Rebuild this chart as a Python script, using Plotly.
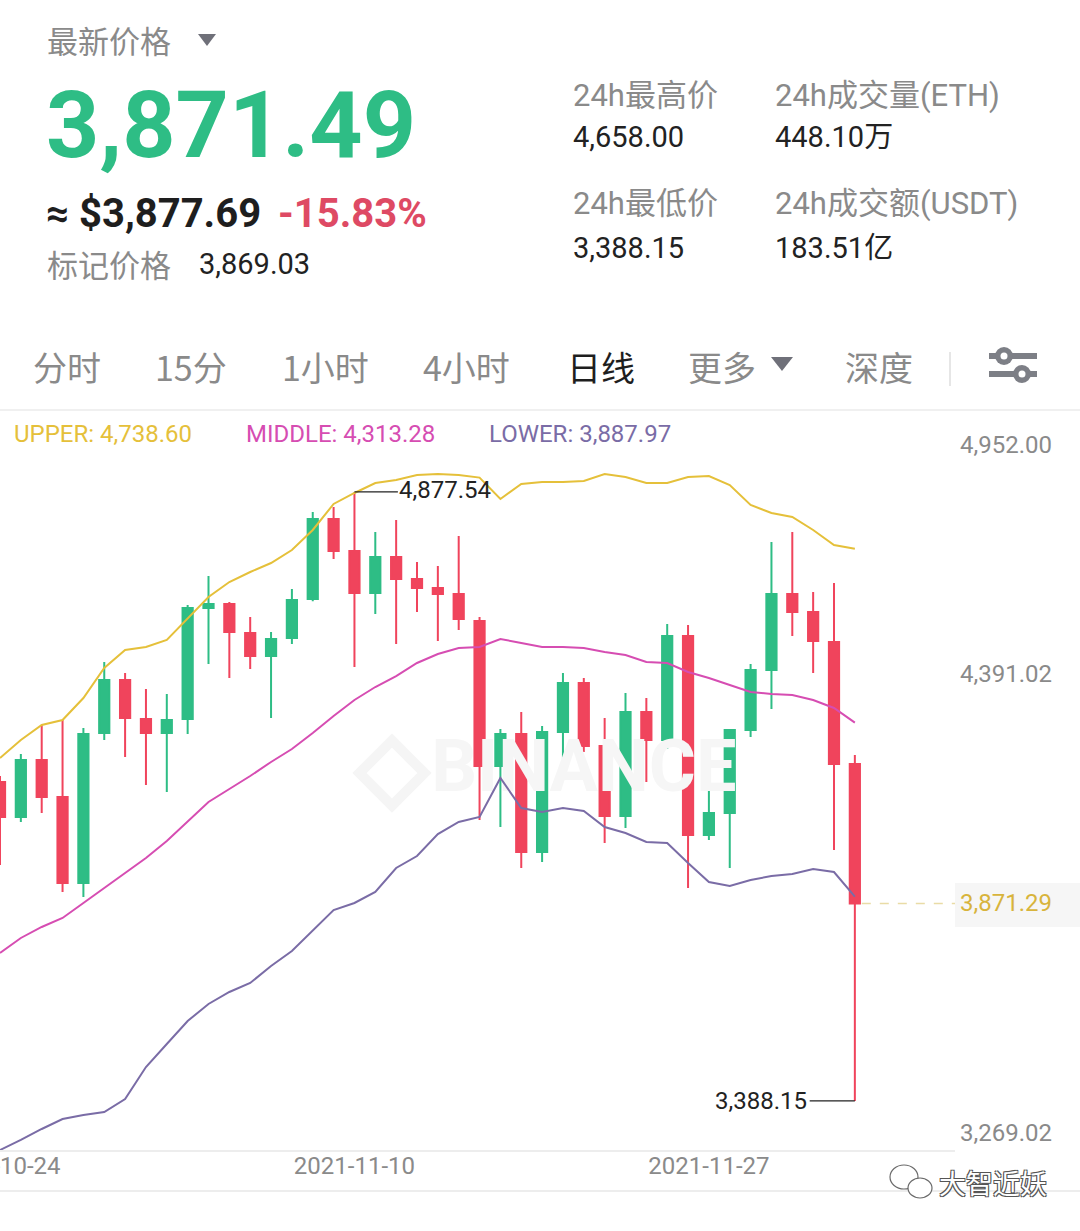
import plotly.graph_objects as go
import pandas as pd

W, H = 1080, 1231

# ---------------- data ----------------
dates = pd.date_range('2021-10-24', '2021-12-04', freq='D').strftime('%Y-%m-%d').tolist()

open_ = [4168.2, 4082.6, 4222.0, 4131.5, 3921.2, 4288.0, 4417.6, 4322.2, 4288.0, 4322.2,
         4593.7, 4603.5, 4532.6, 4476.3, 4520.3, 4615.7, 4811.4, 4733.1, 4630.4, 4718.4,
         4664.6, 4642.6, 4628.0, 4561.9, 4207.3, 4285.6, 3997.0, 4290.5, 4410.3, 4256.2,
         4085.0, 4339.4, 4270.9, 4525.2, 4038.6, 4092.4, 4295.4, 4442.1, 4628.0, 4583.9,
         4510.6, 4212.2]
high = [4182.9, 4236.6, 4307.6, 4319.8, 4300.2, 4461.6, 4434.8, 4395.6, 4383.4, 4601.1,
        4672.0, 4608.4, 4571.7, 4535.0, 4640.2, 4828.5, 4840.7, 4877.54, 4779.6, 4808.9,
        4706.2, 4696.4, 4769.8, 4571.7, 4297.8, 4339.4, 4305.1, 4434.8, 4422.5, 4324.7,
        4385.8, 4373.6, 4554.6, 4552.1, 4180.4, 4297.8, 4456.8, 4755.1, 4779.6, 4632.8,
        4654.9, 4234.2]
low = [3965.2, 4070.4, 4092.4, 3899.2, 3886.9, 4270.9, 4229.3, 4160.8, 4143.7, 4285.6,
       4456.8, 4422.5, 4444.5, 4324.7, 4505.7, 4610.0, 4713.6, 4449.4, 4579.0, 4505.7,
       4583.9, 4513.0, 4539.9, 4075.3, 4058.1, 3957.9, 3972.5, 4202.4, 4241.6, 4019.0,
       4055.7, 4168.2, 4248.9, 3909.0, 4026.3, 3957.9, 4278.2, 4346.7, 4525.2, 4434.8,
       4001.9, 3388.15]
close = [4082.6, 4222.0, 4131.5, 3921.2, 4285.6, 4417.6, 4324.7, 4288.0, 4319.8, 4593.7,
         4603.5, 4535.0, 4476.3, 4517.9, 4613.3, 4811.4, 4733.1, 4630.4, 4718.4, 4664.6,
         4642.6, 4628.0, 4566.8, 4207.3, 4285.6, 3997.0, 4290.5, 4410.3, 4256.2, 4085.0,
         4339.4, 4270.9, 4525.2, 4038.6, 4092.4, 4295.4, 4442.1, 4628.0, 4583.9, 4513.0,
         4212.2, 3871.29]

upper = [4226.9, 4270.9, 4307.6, 4319.8, 4373.6, 4447.0, 4491.0, 4498.3, 4515.5, 4566.8,
         4620.6, 4657.3, 4681.8, 4703.8, 4735.6, 4784.5, 4848.1, 4875.0, 4899.4, 4906.8,
         4919.0, 4921.4, 4919.0, 4912.6, 4860.3, 4897.0, 4901.9, 4901.9, 4904.3, 4921.4,
         4914.1, 4899.4, 4899.4, 4914.1, 4916.5, 4894.5, 4845.6, 4826.0, 4816.3, 4784.5,
         4747.8, 4738.60]
middle = [3750.0, 3786.7, 3813.6, 3835.6, 3872.3, 3909.0, 3945.6, 3982.3, 4023.9, 4070.4,
          4119.3, 4151.1, 4182.9, 4217.1, 4248.9, 4288.0, 4329.6, 4368.7, 4400.5, 4427.4,
          4459.2, 4481.2, 4495.9, 4498.3, 4517.9, 4508.1, 4498.3, 4498.3, 4495.9, 4486.1,
          4478.8, 4461.6, 4459.2, 4437.2, 4422.5, 4405.4, 4388.3, 4383.4, 4381.0, 4368.7,
          4349.2, 4313.28]
lower = [3268.2, 3292.7, 3319.6, 3344.0, 3353.8, 3361.1, 3392.9, 3471.2, 3527.4, 3583.7,
         3625.3, 3654.6, 3676.6, 3718.2, 3754.9, 3806.2, 3855.1, 3872.3, 3899.2, 3957.9,
         3987.2, 4041.0, 4070.4, 4082.6, 4178.0, 4104.6, 4094.8, 4104.6, 4097.3, 4058.1,
         4043.5, 4021.4, 4019.0, 3970.1, 3923.6, 3913.8, 3928.5, 3938.3, 3943.2, 3955.4,
         3948.1, 3887.97]

y_ticks = [4952.00, 4391.02, 3269.02]
x_ticks = ['2021-10-24', '2021-11-10', '2021-11-27']

last_price = 3871.29
max_high = 4877.54
min_low = 3388.15

header_price = '3,871.49'
header_usd = '≈ $3,877.69'
header_change = '-15.83%'
mark_price = '3,869.03'
stats = [('24h最高价', '4,658.00'), ('24h成交量(ETH)', '448.10万'),
         ('24h最低价', '3,388.15'), ('24h成交额(USDT)', '183.51亿')]
tabs = ['分时', '15分', '1小时', '4小时', '日线', '更多', '深度']

# ---------------- style ----------------
GREEN = '#2EBD85'
RED = '#F0445C'
C_UP = '#E5C03A'
C_MID = '#D64DB2'
C_LOW = '#7A6CA6'
GREY = '#8A8A8A'
FONT = 'Roboto, Noto Sans CJK SC, sans-serif'
CJK = 'Noto Sans CJK SC, Roboto, sans-serif'


def px(x):
    return x / W


def py(y):
    return 1 - y / H


x0_plot, x1_plot = 0, 955
ytop, ybot = 415, 1150
px_per_day = 20.85
range_start = pd.Timestamp(dates[0])
range_end = range_start + pd.Timedelta(days=(x1_plot - x0_plot) / px_per_day)
# price scale: 4952 at 461.5px, 2.4456 price/px
k = 2.4456
y_hi = 4952.0 + (461.5 - ytop) * k
y_lo = 4952.0 - (ybot - 461.5) * k

fig = go.Figure()

# watermark (drawn first, below candles)
mid_day = pd.Timestamp(dates[0]) + pd.Timedelta(days=28.0)
fig.add_trace(go.Scatter(x=[mid_day], y=[4190], mode='text', text=['BINANCE'],
                         textfont=dict(family='Roboto', size=72, color='#F6F6F6', weight='bold'),
                         hoverinfo='skip', showlegend=False))
fig.add_trace(go.Scatter(x=[pd.Timestamp(dates[0]) + pd.Timedelta(days=18.8)], y=[4190], mode='markers',
                         marker=dict(symbol='diamond-open', size=50, color='#F5F5F5',
                                     line=dict(width=10, color='#F5F5F5')),
                         hoverinfo='skip', showlegend=False))

fig.add_trace(go.Candlestick(
    x=dates, open=open_, high=high, low=low, close=close,
    increasing=dict(line=dict(color=GREEN, width=2), fillcolor=GREEN),
    decreasing=dict(line=dict(color=RED, width=2), fillcolor=RED),
    whiskerwidth=0, hoverinfo='skip', showlegend=False))

for vals, col in [(upper, C_UP), (middle, C_MID), (lower, C_LOW)]:
    fig.add_trace(go.Scatter(x=dates, y=vals, mode='lines', line=dict(color=col, width=2),
                             hoverinfo='skip', showlegend=False))

shapes = []
annotations = []


def text(x, y, s, size, color, family=FONT, anchor='left', bold=False, **kw):
    annotations.append(dict(xref='paper', yref='paper', x=px(x), y=py(y), text=s,
                            showarrow=False, xanchor=anchor, yanchor='middle',
                            font=dict(family=family, size=size, color=color,
                                      weight='bold' if bold else 'normal', **kw)))


def tri(cx, cy, w, h, color):
    p = 'M {:.5f},{:.5f} L {:.5f},{:.5f} L {:.5f},{:.5f} Z'.format(
        px(cx - w / 2), py(cy - h / 2), px(cx + w / 2), py(cy - h / 2), px(cx), py(cy + h / 2))
    shapes.append(dict(type='path', xref='paper', yref='paper', path=p,
                       fillcolor=color, line=dict(width=0)))


def hline(x0, x1, y, color, width=1, dash='solid'):
    shapes.append(dict(type='line', xref='paper', yref='paper', x0=px(x0), x1=px(x1),
                       y0=py(y), y1=py(y), line=dict(color=color, width=width, dash=dash)))


# ---------------- header ----------------
text(45, 40, '最新价格', 31, GREY, CJK)
tri(207, 40, 18, 12, '#6F7079')
text(44, 126, header_price, 93, GREEN, 'Roboto', bold=True)
text(44, 214, header_usd, 40, '#1E1E1E', FONT, bold=True)
text(276, 214, header_change, 40, '#DE4A64', FONT, bold=True)
text(45, 263, '标记价格', 31, GREY, CJK)
text(197, 264, mark_price, 29, '#222222')

pos = [(571, 95, 137), (773, 95, 137), (571, 204, 248), (773, 204, 248)]
for (lab, val), (x, yl, yv) in zip(stats, pos):
    text(x, yl, lab, 31, GREY, FONT)
    text(x, yv, val, 29, '#222222', FONT)

# ---------------- tabs ----------------
tab_x = [31, 153, 280, 421, 565, 686, 843]
for t, x in zip(tabs, tab_x):
    col = '#1E1E1E' if t == '日线' else GREY
    text(x, 367, t, 34, col, CJK)
tri(782, 364, 22, 14, '#6F7079')
shapes.append(dict(type='line', xref='paper', yref='paper', x0=px(950), x1=px(950),
                   y0=py(352), y1=py(386), line=dict(color='#E6E6E6', width=2)))
# slider icon
for yy, cx in [(356, 1004), (374, 1022)]:
    hline(989, 1037, yy, '#7D7F86', 6)
    shapes.append(dict(type='circle', xref='paper', yref='paper', x0=px(cx - 9), x1=px(cx + 9),
                       y0=py(yy + 9), y1=py(yy - 9), fillcolor='#7D7F86', line=dict(width=0)))
    shapes.append(dict(type='circle', xref='paper', yref='paper', x0=px(cx - 3.5), x1=px(cx + 3.5),
                       y0=py(yy + 3.5), y1=py(yy - 3.5), fillcolor='white', line=dict(width=0)))
hline(0, 1080, 410, '#F0F0F0', 2)

# ---------------- legend row ----------------
text(12, 434, 'UPPER: {:,.2f}'.format(upper[-1]), 24, C_UP)
text(244, 434, 'MIDDLE: {:,.2f}'.format(middle[-1]), 24, C_MID)
text(487, 434, 'LOWER: {:,.2f}'.format(lower[-1]), 24, C_LOW)

# ---------------- chart annotations ----------------
i_hi = high.index(max_high)
i_lo = low.index(min_low)
hi_x = pd.Timestamp(dates[i_hi])
lo_x = pd.Timestamp(dates[i_lo])
shapes.append(dict(type='line', xref='x', yref='y', x0=hi_x, x1=hi_x + pd.Timedelta(hours=50),
                   y0=max_high, y1=max_high, line=dict(color='#222222', width=1.2)))
annotations.append(dict(xref='x', yref='y', x=hi_x, y=max_high, xshift=43, yshift=2,
                        text='{:,.2f}'.format(max_high), showarrow=False, xanchor='left',
                        yanchor='middle', font=dict(family=FONT, size=24, color='#222222')))
shapes.append(dict(type='line', xref='x', yref='y', x0=lo_x - pd.Timedelta(hours=52), x1=lo_x,
                   y0=min_low, y1=min_low, line=dict(color='#222222', width=1.2)))
annotations.append(dict(xref='x', yref='y', x=lo_x, y=min_low, xshift=-46, yshift=0,
                        text='{:,.2f}'.format(min_low), showarrow=False, xanchor='right',
                        yanchor='middle', font=dict(family=FONT, size=24, color='#222222')))

# last price line and label
shapes.append(dict(type='line', xref='x', yref='y', x0=lo_x + pd.Timedelta(hours=8), x1=range_end,
                   y0=last_price, y1=last_price, line=dict(color='#E9DCA6', width=1.5, dash='dash')))
shapes.append(dict(type='rect', xref='paper', yref='paper', x0=px(955), x1=px(1080),
                   y0=py(927), y1=py(883), fillcolor='#F6F6F6', line=dict(width=0), layer='below'))
annotations.append(dict(xref='paper', yref='y', x=px(958), y=last_price,
                        text='{:,.2f}'.format(last_price), showarrow=False, xanchor='left',
                        yanchor='middle', font=dict(family=FONT, size=24, color='#D8B43C')))

# bottom separators and watermark
hline(0, 1080, 1191, '#EDEDED', 2)
for cx, cy, rx, ry in [(904, 1177, 14, 12), (920, 1188, 12, 10)]:
    shapes.append(dict(type='circle', xref='paper', yref='paper', x0=px(cx - rx), x1=px(cx + rx),
                       y0=py(cy + ry), y1=py(cy - ry), fillcolor='white',
                       line=dict(color='#6A6A6A', width=1.2)))
text(937, 1182, '大智近妖', 27, 'white', CJK,
     shadow='1px 1px 0 #555, -1px -1px 0 #555, 1px -1px 0 #555, -1px 1px 0 #555')

fig.update_layout(
    width=W, height=H,
    margin=dict(l=0, r=0, t=0, b=0, autoexpand=False),
    paper_bgcolor='white', plot_bgcolor='white',
    showlegend=False,
    shapes=shapes, annotations=annotations,
    xaxis=dict(type='date', domain=[px(x0_plot), px(x1_plot)], range=[range_start, range_end],
               rangeslider=dict(visible=False), showgrid=False, zeroline=False,
               tickvals=x_ticks, ticktext=x_ticks, ticks='', ticklen=0,
               ticklabeloverflow='allow', automargin=False, ticklabelstandoff=-7,
               showline=True, linecolor='#EDEDED', linewidth=2,
               tickfont=dict(family=FONT, size=24, color=GREY)),
    yaxis=dict(domain=[py(ybot), py(ytop)], range=[y_lo, y_hi], side='right',
               showgrid=False, zeroline=False, ticks='', automargin=False,
               tickvals=y_ticks, ticktext=['{:,.2f}'.format(v) for v in y_ticks],
               ticklabelshift=-17, ticklabelstandoff=4,
               tickfont=dict(family=FONT, size=24, color=GREY)),
)

fig.write_html('out.html', config={'displayModeBar': False},
               post_script="document.body.style.margin='0px';document.body.style.overflow='hidden';")
